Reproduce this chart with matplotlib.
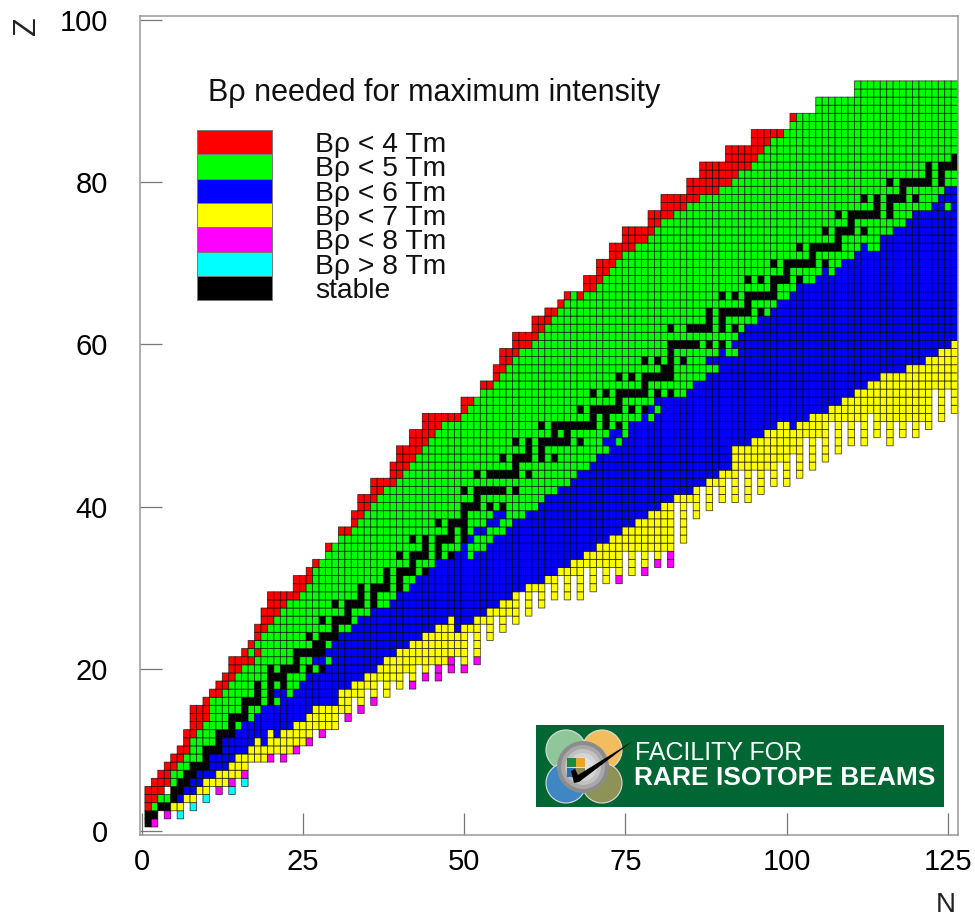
import numpy as np
import matplotlib
matplotlib.use("Agg")
import matplotlib.pyplot as plt
from matplotlib.collections import PolyCollection
from matplotlib.patches import Circle, Rectangle

plt.rcParams["font.family"] = ["Liberation Sans", "DejaVu Sans"]

# for every Z = 1..92, first N of each band (127 = band not reached)
z_rows = list(range(1, 93))
n_first = [1, 1, 1, 1, 1, 2, 3, 4, 5, 6,
           7, 7, 8, 8, 8, 10, 11, 12, 13, 14,
           14, 16, 17, 18, 18, 19, 19, 20, 20, 24,
           24, 26, 27, 29, 29, 31, 31, 33, 33, 34,
           34, 36, 36, 39, 39, 40, 40, 42, 42, 44,
           44, 50, 50, 53, 53, 55, 55, 56, 56, 58,
           58, 61, 61, 63, 65, 66, 69, 69, 71, 71,
           73, 73, 75, 75, 79, 79, 81, 81, 85, 85,
           87, 87, 91, 91, 95, 95, 101, 101, 105, 105,
           111, 111]
n_green = [1, 1, 2, 3, 4, 5, 5, 6, 7, 8,
           8, 9, 10, 11, 11, 11, 13, 14, 15, 16,
           18, 17, 18, 19, 20, 21, 22, 23, 25, 26,
           27, 27, 28, 29, 30, 31, 33, 34, 35, 36,
           37, 38, 40, 41, 42, 43, 44, 45, 46, 47,
           50, 51, 52, 53, 55, 56, 57, 58, 59, 61,
           62, 63, 64, 65, 66, 67, 71, 72, 73, 74,
           75, 77, 79, 80, 81, 83, 85, 87, 90, 92,
           93, 95, 96, 97, 98, 100, 101, 102, 105, 105,
           111, 111]
n_blue = [3, 3, 5, 6, 7, 8, 9, 11, 11, 13,
          13, 15, 16, 18, 19, 22, 21, 25, 26, 29,
          27, 29, 30, 31, 33, 34, 36, 39, 40, 42,
          43, 45, 46, 49, 50, 51, 52, 54, 55, 62,
          63, 65, 67, 68, 70, 71, 73, 72, 73, 76,
          78, 79, 80, 85, 86, 88, 90, 88, 90, 92,
          93, 94, 96, 98, 99, 101, 102, 105, 106, 109,
          111, 112, 115, 117, 119, 120, 123, 124, 125, 127,
          127, 127, 127, 127, 127, 127, 127, 127, 127, 127,
          127, 127]
n_yellow = [3, 3, 5, 7, 9, 10, 12, 14, 15, 17,
            18, 20, 24, 26, 27, 31, 31, 33, 35, 37,
            38, 40, 42, 44, 46, 48, 54, 56, 58, 60,
            63, 65, 67, 69, 71, 73, 75, 77, 79, 81,
            83, 86, 88, 90, 92, 92, 92, 95, 97, 99,
            104, 107, 109, 111, 113, 115, 119, 122, 124, 126,
            127, 127, 127, 127, 127, 127, 127, 127, 127, 127,
            127, 127, 127, 127, 127, 127, 127, 127, 127, 127,
            127, 127, 127, 127, 127, 127, 127, 127, 127, 127,
            127, 127]

# lowest Z with a yellow cell, column by column (N = 5..126)
tail_n = list(range(5, 127))
tail_zmin = [3, 3, 4, 4, 5, 5, 6, 6, 6, 7, 7, 8,
             9, 9, 9, 10, 10, 10, 10, 11, 11, 12, 13, 13, 13, 13, 15, 15,
             17, 16, 18, 17, 19, 17, 19, 18, 20, 19, 21, 20, 21, 21, 21, 22,
             22, 21, 25, 22, 26, 24, 27, 25, 27, 26, 30, 27, 30, 28, 31, 29,
             32, 29, 32, 29, 33, 30, 33, 31, 33, 32, 35, 32, 35, 33, 35, 34,
             35, 35, 41, 36, 41, 39, 43, 40, 43, 41, 44, 41, 45, 41, 45, 42,
             45, 43, 46, 43, 47, 44, 49, 45, 49, 46, 51, 47, 51, 48, 51, 48,
             52, 49, 51, 48, 51, 49, 51, 49, 51, 50, 55, 51, 55, 52]

# single cells that break the bands
red_n, red_z = [18, 68], [22, 66]
green_n = [23, 29, 51, 51, 52, 53, 52, 53, 54, 54, 55, 56, 56, 57, 57, 58, 59,
           74, 75, 79, 80, 91, 92, 107, 113, 114, 125]
green_z = [17, 21, 34, 35, 35, 35, 36, 36, 36, 37, 37, 37, 38, 38, 39, 39, 39,
           48, 49, 51, 52, 59, 59, 69, 72, 72, 77]
blue_n = [19, 21, 49, 49, 50, 51, 101]
blue_z = [11, 12, 25, 26, 26, 26, 50]
magenta_n = [2, 4, 12, 14, 16, 20, 22, 24, 26, 28, 32, 34, 36, 42, 44, 46, 46,
             48, 48, 50, 52, 74, 78, 80, 82, 82]
magenta_z = [1, 2, 5, 6, 7, 9, 9, 10, 11, 12, 14, 15, 16, 18, 19, 19, 20,
             20, 21, 20, 21, 31, 32, 33, 33, 34]
cyan_n = [6, 8, 10, 14, 16]
cyan_z = [2, 3, 4, 5, 6]
hole_n, hole_z = [4], [5]

# stable N, one list per Z
stable_n = [
    [1], [1, 2], [3, 4], [5], [5, 6], [6, 7], [7, 8], [8, 9, 10], [10],
    [10, 11, 12], [12], [12, 13, 14], [14], [14, 15, 16], [16],
    [16, 17, 18, 20], [18, 20], [18, 20, 22], [20, 21, 22],
    [20, 22, 23, 24, 26, 28], [24], [24, 25, 26, 27, 28], [27, 28],
    [26, 28, 29, 30], [30], [28, 30, 31, 32], [32], [30, 32, 33, 34, 36],
    [34, 36], [34, 36, 37, 38, 40], [38, 40], [38, 40, 41, 42, 44], [42],
    [40, 42, 43, 44, 46, 48], [44, 46], [42, 44, 46, 47, 48, 50], [48, 50],
    [46, 48, 49, 50], [50], [50, 51, 52, 54, 56], [52],
    [50, 52, 53, 54, 55, 56, 58], [], [52, 54, 55, 56, 57, 58, 60], [58],
    [56, 58, 59, 60, 62, 64], [60, 62], [58, 60, 62, 63, 64, 65, 66, 68],
    [64, 66], [62, 64, 65, 66, 67, 68, 69, 70, 72, 74], [70, 72],
    [68, 70, 71, 72, 73, 74, 76, 78], [74], [70, 72, 74, 75, 76, 77, 78, 80, 82],
    [78], [74, 76, 78, 79, 80, 81, 82], [81, 82], [78, 80, 82, 84], [82],
    [82, 83, 84, 85, 86, 88, 90], [], [82, 85, 86, 87, 88, 90, 92], [88, 90],
    [88, 90, 91, 92, 93, 94, 96], [94], [90, 92, 94, 95, 96, 97, 98], [98],
    [94, 96, 98, 99, 100, 102], [100], [98, 100, 101, 102, 103, 104, 106], [104],
    [102, 104, 105, 106, 107, 108], [108], [106, 108, 109, 110, 112], [110],
    [108, 110, 111, 112, 113, 114, 116], [114, 116], [112, 114, 116, 117, 118, 120],
    [118], [116, 118, 119, 120, 121, 122, 124], [122, 124], [122, 124, 125, 126],
    [126],
]

legend_labels = ["B\u03c1 < 4 Tm", "B\u03c1 < 5 Tm", "B\u03c1 < 6 Tm", "B\u03c1 < 7 Tm",
                 "B\u03c1 < 8 Tm", "B\u03c1 > 8 Tm", "stable"]
colours = ["#ff0000", "#00ff00", "#0000ff", "#ffff00", "#ff00ff", "#00ffff", "#000000"]
RED, GREEN, BLUE, YELLOW, MAGENTA, CYAN, BLACK = range(1, 8)

# build the cell grid
zmin_of = dict(zip(tail_n, tail_zmin))
grid = np.zeros((93, 128), dtype=int)
for i, z in enumerate(z_rows):
    for n in range(n_first[i], 127):
        if n < n_green[i]:
            grid[z, n] = RED
        elif n < n_blue[i]:
            grid[z, n] = GREEN
        elif n < n_yellow[i]:
            grid[z, n] = BLUE
        elif zmin_of.get(n, 999) <= z:
            grid[z, n] = YELLOW
for ns, zs, code in [(red_n, red_z, RED), (green_n, green_z, GREEN), (blue_n, blue_z, BLUE),
                     (magenta_n, magenta_z, MAGENTA), (cyan_n, cyan_z, CYAN), (hole_n, hole_z, 0)]:
    grid[zs, ns] = code
for z, ns in zip(z_rows, stable_n):
    for n in ns:
        grid[z, n] = BLACK

W, H = 975, 918
fig = plt.figure(figsize=(W / 100, H / 100), dpi=100)
L, R, T, B = 140, 958, 16, 835
ax = fig.add_axes([L / W, 1 - B / H, (R - L) / W, (B - T) / H])

zz, nn = np.nonzero(grid)
squares = [[(n - 0.5, z - 0.5), (n + 0.5, z - 0.5), (n + 0.5, z + 0.5), (n - 0.5, z + 0.5)]
           for n, z in zip(nn, zz)]
cells = PolyCollection(squares, facecolors=[colours[c - 1] for c in grid[zz, nn]],
                       edgecolors=(0, 0, 0, 0.7), linewidths=0.6)
cells.set_snap(False)
ax.add_collection(cells)

ax.set_xlim(-0.26, 126.55)
ax.set_ylim(-0.49, 100.5)
ax.set_xticks([0, 25, 50, 75, 100, 125])
ax.set_yticks([0, 20, 40, 60, 80, 100])
ax.tick_params(axis="x", direction="in", length=16, width=0.9, color="#777777", labelsize=21, pad=9)
ax.tick_params(axis="y", direction="in", length=16, width=0.9, color="#777777", labelsize=21, pad=23)
for side in ax.spines.values():
    side.set_color("#999999")
    side.set_linewidth(1.1)

# overlay in pixel coordinates for labels, legend and logo
top = fig.add_axes([0, 0, 1, 1], zorder=5)
top.set_xlim(0, W)
top.set_ylim(H, 0)
top.axis("off")

top.text(946, 905, "N", fontsize=20, ha="center", va="center", color="#222222")
top.text(27, 26, "Z", fontsize=22, ha="center", va="center", rotation=90, color="#222222")

top.text(208, 93, "B\u03c1 needed for maximum intensity", fontsize=22, ha="left", va="center", color="#111111")
for i, (col, lab) in enumerate(zip(colours, legend_labels)):
    y0 = 130 + i * 24.3
    top.add_patch(Rectangle((197, y0), 75, 24.3, fc=col, ec="#777777", lw=0.7))
    top.text(315, y0 + 15, lab, fontsize=20.3, ha="left", va="center", color="#111111")

# logo
top.add_patch(Rectangle((536, 725), 408, 81.5, fc="#006633", ec="none"))
for cx, cy, col in [(566, 750, "#8fc79a"), (602, 750, "#f2bd5e"),
                    (566, 783, "#3f86c4"), (602, 783, "#8e9256")]:
    top.add_patch(Circle((cx, cy), 20, fc=col, ec="#dddddd", lw=0.8))
for r, g in zip([26, 22, 18, 14, 10], ["#8c8c8c", "#a8a8a8", "#c2c2c2", "#d4d4d4", "#e0e0e0"]):
    top.add_patch(Circle((583, 767), r, fc=g, ec="none"))
for x0, y0, col in [(567, 758, "#1b8a3a"), (576, 758, "#eda520"),
                    (567, 768, "#2a6fb5"), (576, 768, "#8e8a50")]:
    top.add_patch(Rectangle((x0, y0), 8.5, 9, fc=col, ec="none"))
top.fill([571, 575, 578, 633, 579, 574], [771, 769, 775, 741, 782, 783], color="black", lw=0)
top.text(635, 753, "FACILITY FOR", fontsize=18, color="white", ha="left", va="center")
top.text(634, 778, "RARE ISOTOPE BEAMS", fontsize=19, color="white", ha="left", va="center", fontweight="bold")

fig.savefig("out.png", dpi=100)
